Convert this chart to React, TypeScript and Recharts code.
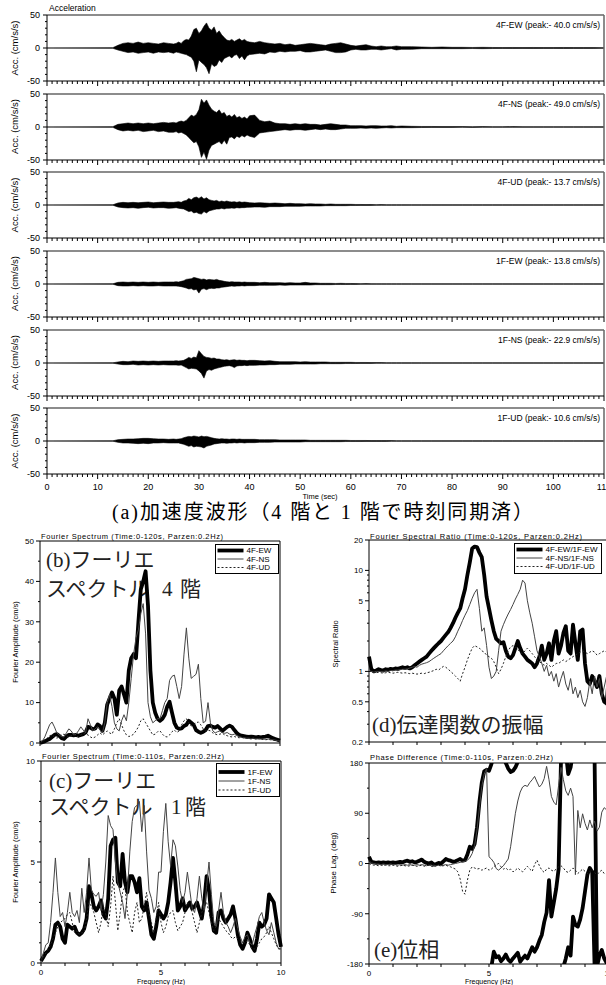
import React from "react";
import { ComposedChart, LineChart, Line, Area, XAxis, YAxis, ReferenceLine } from "recharts";

const SANS = '"Liberation Sans", Arial, sans-serif';
const JP = '"Liberation Serif", "Noto Sans CJK JP", serif';

// ---------- (a) acceleration records, min/max envelope per time step (s) ----------
const TIME = [
  0,
  13, 14, 15, 16, 17, 18, 19, 20, 21, 22, 23, 24,
  25, 25.5, 26, 26.5, 27, 27.5, 28, 28.5, 29, 29.5, 30, 30.5, 31, 31.5, 32, 32.5,
  33, 33.5, 34, 34.5, 35, 35.5, 36, 36.5, 37, 37.5, 38, 38.5, 39, 39.5, 40,
  41, 42, 43, 44, 45, 46, 47, 48, 49, 50, 51, 52, 53, 54, 55,
  56, 57, 58, 59, 60, 61, 62, 63, 64, 65, 66, 67, 68, 69, 70,
  72, 74, 76, 78, 80, 82, 84, 86, 88, 90, 92, 94, 96, 98, 100, 102, 104, 106, 108, 110,
];

const ew4Hi = [
  0,
  0.5, 4, 7, 8, 7, 9, 7, 8, 7, 6, 8, 7,
  6, 7, 9, 7, 11, 13, 12, 18, 28, 30, 22, 26, 33, 38, 30, 27, 32, 22, 26, 20, 16, 12, 11, 13, 10, 12, 14, 11, 13, 10, 9,
  8, 10, 8, 7, 6, 7, 5, 6, 4, 5, 6, 7, 6, 5, 4, 6, 7, 8, 6, 4, 3, 4, 5, 3, 2, 3, 2, 2, 3, 2,
  2, 1.5, 1, 1.5, 1, 1, 0.8, 1, 0.8, 0.6, 0.8, 0.6, 0.8, 0.6, 0.6, 0.8, 0.6, 0.6, 0.6, 0.5,
];
const ew4Lo = [
  0,
  -0.5, -3, -5, -7, -6, -8, -7, -6, -8, -6, -7, -6,
  -8, -6, -7, -8, -9, -10, -12, -14, -20, -36, -18, -22, -25, -30, -39, -24, -28, -26, -18, -22, -16, -14, -12, -15, -11, -10, -16, -12, -18, -12, -10,
  -9, -8, -9, -6, -7, -5, -6, -5, -5, -4, -6, -6, -5, -4, -3, -5, -7, -7, -6, -3, -2, -3, -3, -2, -2, -3, -2, -1, -3, -2,
  -2, -1, -1, -1, -1, -1, -0.8, -1, -0.8, -0.6, -0.8, -0.6, -0.8, -0.6, -0.6, -0.8, -0.6, -0.6, -0.6, -0.5,
];

const ns4Hi = [
  0,
  0.5, 4, 5, 6, 5, 6, 5, 6, 5, 6, 7, 6,
  7, 6, 8, 9, 8, 10, 14, 18, 16, 19, 26, 42, 36, 41, 33, 27, 24, 22, 26, 20, 22, 16, 18, 15, 19, 14, 16, 13, 15, 12, 17,
  18, 10, 8, 9, 6, 5, 5, 4, 5, 4, 5, 4, 4, 3, 4, 5, 4, 3, 3, 2, 2, 2, 1.5, 2, 2, 1.5, 1.5, 2, 1, 1.5,
  1, 0.8, 0.8, 0.6, 0.6, 0.6, 0.5, 0.6, 0.5, 0.5, 0.6, 0.5, 0.5, 0.5, 0.5, 0.5, 0.5, 0.5, 0.5, 0.5,
];
const ns4Lo = [
  0,
  -0.5, -4, -6, -5, -6, -5, -7, -6, -5, -7, -6, -8,
  -8, -7, -9, -8, -10, -12, -16, -20, -24, -22, -30, -46, -38, -49, -35, -28, -26, -24, -22, -26, -20, -26, -16, -15, -18, -14, -16, -13, -15, -12, -14,
  -16, -9, -8, -7, -6, -5, -4, -5, -4, -4, -5, -4, -3, -4, -3, -4, -4, -3, -2, -2, -2, -1.5, -2, -1.5, -2, -1.5, -1, -1.5, -1, -1,
  -1, -0.8, -0.6, -0.6, -0.6, -0.5, -0.6, -0.5, -0.5, -0.5, -0.5, -0.5, -0.5, -0.5, -0.5, -0.5, -0.5, -0.5, -0.5, -0.5,
];

const ud4Hi = [
  0,
  0.3, 3, 4, 3.5, 4, 3.5, 4, 4.5, 3.5, 4, 4.5, 4,
  4, 4.5, 5, 4, 6, 7, 10, 8, 11, 12, 10, 12.5, 9, 11, 8, 7, 6, 7, 5, 6, 5, 6, 5, 4.5, 5, 4, 5, 4, 4.5, 4, 3.5,
  3, 3.5, 3, 2.5, 3, 2.5, 2, 2.5, 2, 2, 1.5, 2, 1.5, 1.5, 1, 1.5, 1, 1, 1, 1, 0.8, 0.8, 0.6, 0.8, 0.5, 0.6, 0.5, 0.5, 0.5, 0.5,
  0.4, 0.4, 0.4, 0.4, 0.4, 0.4, 0.4, 0.4, 0.4, 0.4, 0.4, 0.4, 0.4, 0.4, 0.4, 0.4, 0.4, 0.4, 0.4, 0.4,
];
const ud4Lo = [
  0,
  -0.3, -3, -4, -4.5, -4, -5, -4, -3.5, -4.5, -4, -4, -5,
  -4.5, -4, -5, -5.5, -6, -8, -10, -9, -12, -11, -13, -13.7, -10, -12, -9, -8, -7, -6, -6, -5, -6, -5, -5, -4.5, -5, -4, -4.5, -4, -4, -3.5, -3.5,
  -3, -3, -3.5, -2.5, -2.5, -2.5, -2, -2, -2, -2, -1.5, -1.5, -1.5, -1.5, -1, -1, -1, -1, -1, -0.8, -0.8, -0.6, -0.6, -0.6, -0.5, -0.5, -0.5, -0.5, -0.5, -0.5,
  -0.4, -0.4, -0.4, -0.4, -0.4, -0.4, -0.4, -0.4, -0.4, -0.4, -0.4, -0.4, -0.4, -0.4, -0.4, -0.4, -0.4, -0.4, -0.4, -0.4,
];

const ew1Hi = [
  0,
  0.3, 2.5, 3, 2.5, 3, 2.5, 3, 2.5, 3, 2.5, 3, 3,
  3, 3.5, 3, 4, 5, 7, 7.5, 8, 10, 9, 8, 7, 7.5, 6, 7, 6.5, 6, 7, 5.5, 5, 4, 3.5, 3, 3.5, 3, 3, 3, 2.5, 3, 2.5, 2.5,
  2.5, 2, 2.5, 2, 2, 2, 1.5, 2, 1.5, 1.5, 2.5, 1.5, 1.5, 1, 1, 1, 0.8, 1, 0.8, 0.8, 0.6, 0.5, 0.6, 0.5, 0.4, 0.4, 0.4, 0.4, 0.4, 0.4,
  0.3, 0.3, 0.3, 0.3, 0.3, 0.3, 0.3, 0.3, 0.3, 0.3, 0.3, 0.3, 0.3, 0.3, 0.3, 0.3, 0.3, 0.3, 0.3, 0.3,
];
const ew1Lo = [
  0,
  -0.3, -2.5, -3, -3, -2.5, -3, -2.5, -3, -3, -2.5, -3, -3,
  -3, -3, -3.5, -4, -5, -6, -7.5, -7, -9, -8, -13.8, -8, -7, -8.6, -7, -6.5, -7, -6, -6, -5, -4.5, -4, -3.5, -3, -3.5, -3, -3, -2.5, -3, -2.5, -2.5,
  -2.5, -2, -2, -2, -2, -1.5, -2, -1.5, -1.5, -1.5, -1.5, -1.5, -1, -1, -1, -1, -0.8, -0.8, -0.8, -0.6, -0.6, -0.5, -0.5, -0.5, -0.4, -0.4, -0.4, -0.4, -0.4, -0.4,
  -0.3, -0.3, -0.3, -0.3, -0.3, -0.3, -0.3, -0.3, -0.3, -0.3, -0.3, -0.3, -0.3, -0.3, -0.3, -0.3, -0.3, -0.3, -0.3, -0.3,
];

const ns1Hi = [
  0,
  0.3, 1.5, 2.5, 2, 3, 2.5, 3, 2.5, 3, 2.5, 3, 3,
  3, 3.5, 3, 3.5, 4, 6, 8.5, 7, 9, 8, 18.7, 14, 10, 8.5, 8, 7, 7.5, 6, 6, 5, 4.5, 5, 4, 4.5, 5, 4, 4.5, 4, 4, 3.5, 4,
  4, 3.5, 3, 3.5, 2.5, 2, 2, 2, 2, 1.5, 2, 1.5, 1.5, 1.5, 1.5, 1, 1, 1, 1, 1, 0.8, 0.8, 0.8, 0.6, 0.6, 0.6, 0.5, 0.5, 0.5, 0.5,
  0.5, 0.4, 0.3, 0.3, 0.3, 0.3, 0.3, 0.3, 0.3, 0.3, 0.3, 0.3, 0.3, 0.3, 0.3, 0.3, 0.3, 0.3, 0.3, 0.3,
];
const ns1Lo = [
  0,
  -0.3, -1.5, -2.5, -2.5, -2, -3, -2.5, -3, -2.5, -3, -2.5, -3,
  -3, -3, -3.5, -3, -5, -7, -9, -8, -8.5, -9, -12, -16, -22.9, -12, -10, -11, -9, -8, -7, -6, -5, -4.5, -4, -5, -7, -4.5, -4, -4, -3.5, -4, -3.5,
  -3.5, -3, -3, -2.5, -2.5, -2, -2, -2, -1.5, -1.5, -1.5, -1.5, -1.5, -1, -1, -1, -1, -1, -0.8, -0.8, -0.8, -0.6, -0.6, -0.6, -0.5, -0.5, -0.5, -0.5, -0.5, -0.5,
  -0.5, -0.4, -0.3, -0.3, -0.3, -0.3, -0.3, -0.3, -0.3, -0.3, -0.3, -0.3, -0.3, -0.3, -0.3, -0.3, -0.3, -0.3, -0.3, -0.3,
];

const ud1Hi = [
  0,
  0.3, 2, 2.5, 3, 3, 3.5, 4, 4, 3.5, 3, 3, 2.5,
  3, 2.5, 3, 3.5, 5, 6, 7, 6.5, 7.5, 7, 6, 7.5, 6.5, 7, 6, 5, 4, 3.5, 3, 3.5, 3, 3, 2.5, 3, 3, 2.5, 3, 2.5, 2.5, 2.5, 2.5,
  2.5, 2, 2, 2, 2, 1.5, 1.5, 1.5, 1.5, 1.5, 1.5, 1, 1, 1, 1, 1, 1, 1, 1, 0.8, 0.8, 0.8, 0.8, 0.6, 0.6, 0.6, 0.6, 0.6, 0.5, 0.5,
  0.5, 0.5, 0.5, 0.5, 0.5, 0.5, 0.5, 0.5, 0.4, 0.4, 0.4, 0.3, 0.3, 0.3, 0.3, 0.3, 0.3, 0.3, 0.3, 0.3,
];
const ud1Lo = [
  0,
  -0.3, -2, -3, -3, -3.5, -4, -3.5, -4, -3, -3, -2.5, -3,
  -3, -3, -3, -4, -5, -6.5, -8, -7, -9, -8, -8.5, -9, -10.6, -8, -7, -6, -4.5, -4, -3.5, -3, -3, -3.5, -3, -3, -2.5, -3, -2.5, -2.5, -3, -2.5, -2.5,
  -2.5, -2, -2, -2, -1.5, -1.5, -1.5, -1.5, -1.5, -1.5, -1, -1, -1, -1, -1, -1, -1, -1, -0.8, -0.8, -0.8, -0.8, -0.6, -0.6, -0.6, -0.6, -0.6, -0.5, -0.5, -0.5,
  -0.5, -0.5, -0.5, -0.5, -0.5, -0.5, -0.5, -0.5, -0.4, -0.4, -0.4, -0.3, -0.3, -0.3, -0.3, -0.3, -0.3, -0.3, -0.3, -0.3,
];

const WAVE_NAMES = [
  "4F-EW (peak:- 40.0 cm/s/s)",
  "4F-NS (peak:- 49.0 cm/s/s)",
  "4F-UD (peak:- 13.7 cm/s/s)",
  "1F-EW (peak:- 13.8 cm/s/s)",
  "1F-NS (peak:- 22.9 cm/s/s)",
  "1F-UD (peak:- 10.6 cm/s/s)",
];
const WAVE_HI = [ew4Hi, ns4Hi, ud4Hi, ew1Hi, ns1Hi, ud1Hi];
const WAVE_LO = [ew4Lo, ns4Lo, ud4Lo, ew1Lo, ns1Lo, ud1Lo];
const PANEL_TOPS = [15, 93.5, 172, 250.5, 329.5, 408];

const TIME_TICKS = Array.from({ length: 111 }, (_, i) => i);
const TIME_LABELS = [0, 10, 20, 30, 40, 50, 60, 70, 80, 90, 100, 110];
const ACC_TICKS = [-50, -40, -30, -20, -10, 0, 10, 20, 30, 40, 50];
const ACC_LABELS = [-50, 0, 50];

// ---------- (b)-(e) spectra, 0.1 Hz step ----------
const FREQ = [
  0, 0.1, 0.2, 0.3, 0.4, 0.5, 0.6, 0.7, 0.8, 0.9,
  1, 1.1, 1.2, 1.3, 1.4, 1.5, 1.6, 1.7, 1.8, 1.9,
  2, 2.1, 2.2, 2.3, 2.4, 2.5, 2.6, 2.7, 2.8, 2.9,
  3, 3.1, 3.2, 3.3, 3.4, 3.5, 3.6, 3.7, 3.8, 3.9,
  4, 4.1, 4.2, 4.3, 4.4, 4.5, 4.6, 4.7, 4.8, 4.9,
  5, 5.1, 5.2, 5.3, 5.4, 5.5, 5.6, 5.7, 5.8, 5.9,
  6, 6.1, 6.2, 6.3, 6.4, 6.5, 6.6, 6.7, 6.8, 6.9,
  7, 7.1, 7.2, 7.3, 7.4, 7.5, 7.6, 7.7, 7.8, 7.9,
  8, 8.1, 8.2, 8.3, 8.4, 8.5, 8.6, 8.7, 8.8, 8.9,
  9, 9.1, 9.2, 9.3, 9.4, 9.5, 9.6, 9.7, 9.8, 9.9,
  10,
];
const FREQ_TICKS = [0, 1, 2, 3, 4, 5, 6, 7, 8, 9, 10];
const FREQ_LABELS = [0, 5, 10];

// (b) Fourier spectrum, 4th floor (cm/s)
const amp4EW = [
  0, 0.2, 0.4, 0.7, 1.0, 1.5, 2.0, 2.2, 1.8, 1.2,
  1.0, 1.6, 2.0, 2.0, 1.9, 2.0, 1.8, 2.0, 2.2, 2.6,
  4.0, 3.8, 3.4, 3.6, 4.6, 4.2, 3.0, 5.0, 9.5, 11.0,
  12.5, 11.0, 7.0, 13.0, 14.0, 12.0, 10.0, 18.0, 21.0, 22.0,
  21.0, 30.0, 38.0, 40.0, 42.5, 34.0, 18.0, 10.0, 7.5, 6.0,
  5.5, 6.0, 7.0, 9.0, 10.2, 7.5, 5.0, 3.8, 3.5, 3.6,
  4.2, 4.5, 5.5, 5.0, 4.5, 3.2, 2.8, 2.5, 2.8, 3.2,
  4.2, 4.3, 4.0, 3.8, 4.2, 3.6, 3.0, 3.5, 4.0, 4.3,
  4.0, 3.2, 2.5, 2.0, 1.8, 1.7, 1.6, 1.5, 1.6, 1.5,
  1.4, 1.5, 1.4, 1.5, 1.6, 1.8, 1.5, 1.2, 1.0, 0.8,
  0.6,
];
const amp4NS = [
  0, 0.5, 1.5, 3.0, 4.5, 5.2, 4.0, 2.5, 2.0, 1.6,
  1.5, 2.5, 3.5, 3.0, 2.0, 2.2, 3.0, 4.0, 3.2, 2.5,
  6.0, 4.5, 3.0, 3.5, 4.0, 3.2, 2.5, 5.0, 10.0, 12.0,
  9.0, 5.0, 3.5, 3.0, 5.5, 7.0, 5.5, 10.0, 16.0, 22.0,
  26.0, 28.0, 32.0, 34.5, 27.0, 10.0, 6.5, 5.0, 5.5, 6.0,
  6.0, 8.0, 10.0, 11.0, 15.5, 16.5, 16.8, 14.0, 11.0, 14.0,
  22.0, 28.5, 21.0, 16.0, 16.5, 17.0, 19.5, 11.0, 5.0, 5.4,
  10.0, 5.0, 3.0, 2.5, 2.8, 3.0, 2.6, 2.4, 2.6, 2.2,
  2.0, 2.2, 1.8, 1.6, 1.4, 1.3, 1.2, 1.2, 1.1, 1.2,
  1.0, 1.1, 1.0, 1.0, 0.9, 1.0, 0.9, 0.8, 0.7, 0.6,
  0.5,
];
const amp4UD = [
  0, 0.3, 0.8, 1.2, 1.8, 2.0, 1.5, 1.2, 1.5, 2.0,
  2.2, 1.8, 1.5, 1.8, 2.2, 1.8, 1.5, 2.0, 2.5, 2.2,
  2.0, 1.5, 1.2, 1.5, 2.0, 2.5, 2.0, 2.5, 3.0, 2.5,
  2.2, 3.5, 5.0, 6.0, 4.5, 3.0, 2.0, 1.6, 1.8, 2.2,
  3.0, 4.0, 5.5, 6.0, 5.0, 4.0, 3.0, 2.0, 2.2, 2.8,
  3.0, 2.2, 1.6, 1.5, 2.0, 2.8, 3.2, 2.6, 3.0, 4.5,
  5.5, 6.0, 5.0, 4.2, 4.5, 5.0, 5.2, 4.5, 3.5, 3.0,
  3.2, 3.0, 2.5, 2.2, 2.0, 2.2, 2.4, 2.0, 1.8, 1.6,
  1.5, 1.6, 1.4, 1.3, 1.4, 1.2, 1.2, 1.1, 1.0, 1.1,
  1.0, 1.0, 0.9, 0.9, 0.8, 0.9, 0.8, 0.7, 0.6, 0.5,
  0.5,
];

// (c) Fourier spectrum, 1st floor (cm/s)
const amp1EW = [
  0.1, 0.3, 0.5, 0.6, 0.8, 1.2, 1.9, 2.0, 1.8, 1.2,
  1.0, 1.9, 1.8, 1.7, 1.8, 1.5, 1.4, 1.5, 1.7, 2.2,
  3.8, 3.4, 2.8, 2.6, 2.8, 3.1, 2.4, 2.2, 3.2, 5.8,
  6.1, 6.2, 4.0, 3.8, 5.4, 4.0, 3.5, 4.3, 4.3, 4.0,
  3.5, 4.2, 2.8, 2.6, 3.0, 2.2, 1.4, 1.2, 1.8, 2.6,
  2.4, 2.2, 2.4, 3.0, 4.0, 5.2, 4.0, 2.6, 2.8, 3.2,
  2.6, 2.8, 3.0, 2.7, 2.8, 3.0, 2.6, 2.2, 3.0, 4.3,
  3.6, 2.3, 1.6, 1.5, 2.5, 2.6, 2.2, 2.0, 2.2, 2.4,
  2.8, 2.2, 1.4, 0.9, 0.7, 1.0, 1.5, 1.2, 0.8, 0.6,
  1.2, 2.0, 1.8, 1.9, 2.2, 3.4, 3.2, 3.0, 2.2, 1.4,
  0.8,
];
const amp1NS = [
  0.1, 0.5, 0.9, 1.0, 2.0, 3.5, 5.2, 3.5, 2.3, 2.5,
  1.8, 2.5, 3.5, 2.5, 2.3, 2.6, 2.0, 3.7, 2.5, 3.5,
  5.2, 3.6, 3.4, 3.3, 3.5, 2.6, 3.4, 5.0, 7.3, 6.8,
  6.6, 5.0, 4.0, 3.5, 3.0, 2.2, 3.5, 5.5, 7.0, 7.7,
  7.8, 8.0, 6.5, 7.8, 5.5, 3.6, 3.2, 2.5, 2.8, 4.5,
  4.5, 6.5, 7.9, 6.0, 4.8, 6.1, 5.8, 4.8, 3.6, 3.0,
  3.5, 4.5, 3.6, 2.7, 2.5, 3.2, 4.3, 3.2, 2.6, 3.8,
  5.0, 3.4, 2.0, 1.8, 2.6, 3.5, 2.5, 2.0, 1.8, 1.5,
  1.8, 2.2, 1.7, 1.3, 1.0, 1.3, 1.4, 1.0, 0.9, 1.4,
  1.8, 2.3, 2.5, 2.0, 1.6, 1.4, 2.0, 1.5, 1.0, 0.7,
  0.7,
];
const amp1UD = [
  0.1, 0.3, 0.5, 0.7, 0.9, 1.2, 1.5, 1.8, 2.0, 2.1,
  2.2, 2.4, 2.5, 2.0, 1.5, 1.6, 1.4, 1.5, 1.5, 2.2,
  3.0, 2.8, 2.5, 2.0, 1.5, 2.0, 2.8, 2.4, 1.8, 2.8,
  4.3, 3.0, 1.6, 2.5, 3.5, 3.8, 2.5, 2.0, 1.5, 2.5,
  3.0, 2.0, 2.2, 2.8, 3.5, 2.5, 2.0, 1.5, 2.2, 3.0,
  2.0, 1.5, 1.8, 2.3, 2.5, 2.6, 2.0, 1.6, 1.8, 2.0,
  2.5, 3.0, 2.8, 2.5, 2.0, 1.5, 2.0, 2.5, 2.8, 3.0,
  2.5, 2.0, 1.6, 1.8, 2.2, 2.0, 1.8, 1.6, 1.5, 1.3,
  1.2, 1.3, 1.2, 1.1, 1.0, 1.0, 1.1, 0.9, 0.7, 0.7,
  0.8, 1.0, 1.2, 1.3, 1.5, 1.8, 1.5, 1.2, 0.9, 0.7,
  0.7,
];

// (d) spectral ratio 4F/1F
const ratioEW = [
  1.4, 1.05, 1.0, 1.02, 1.05, 1.03, 1.02, 1.05, 1.04, 1.06,
  1.05, 1.07, 1.06, 1.08, 1.1, 1.08, 1.1, 1.07, 1.1, 1.15,
  1.2, 1.25, 1.3, 1.35, 1.4, 1.5, 1.6, 1.7, 1.8, 1.9,
  2.0, 2.15, 2.3, 2.45, 2.7, 3.0, 3.4, 3.8, 4.2, 5.3,
  6.5, 9.0, 12.0, 16.5, 17.2, 17.0, 15.0, 13.5, 9.0, 5.5,
  4.2, 3.2, 2.5, 2.1, 2.0, 1.9, 1.95, 1.6, 1.4, 1.35,
  1.45, 1.7, 2.0, 1.7, 1.5, 1.4, 1.3, 1.25, 1.2, 1.1,
  1.2, 1.4, 1.8, 1.3, 1.5, 1.9, 1.3, 2.0, 2.5, 1.5,
  1.8, 2.4, 2.8, 1.6, 1.5, 2.9, 1.9, 1.3, 2.5, 2.6,
  1.2, 0.8, 0.75, 0.9, 0.8, 0.7, 0.9, 0.6, 0.5, 0.48,
  0.95,
];
const ratioNS = [
  1.0, 1.0, 0.98, 1.0, 1.0, 1.0, 1.0, 1.01, 1.0, 1.02,
  1.02, 1.03, 1.03, 1.04, 1.05, 1.05, 1.06, 1.08, 1.1, 1.12,
  1.1, 1.15, 1.18, 1.2, 1.22, 1.25, 1.3, 1.35, 1.4, 1.45,
  1.5, 1.6, 1.7, 1.8, 1.9, 2.0, 2.2, 2.5, 2.8, 3.2,
  3.6, 4.0, 4.6, 5.3, 6.0, 6.5, 4.2, 2.5, 2.7, 1.8,
  1.1, 0.85, 0.9, 1.0, 1.6, 2.5, 2.9, 3.3, 3.7, 4.1,
  4.6, 5.2, 5.8, 6.5, 8.0, 7.5, 5.0, 3.8, 3.0, 2.2,
  1.6, 1.4, 1.2, 1.0, 1.15, 0.9, 1.0, 0.8, 0.95, 0.7,
  0.85, 1.0, 0.75, 0.65, 0.85, 0.6, 0.7, 0.55, 0.65, 0.5,
  0.45, 0.55, 0.8, 0.6, 0.9, 0.7, 0.85, 0.55, 0.7, 0.9,
  1.0,
];
const ratioUD = [
  1.0, 1.0, 0.98, 0.97, 0.98, 0.97, 0.96, 0.97, 0.98, 0.97,
  0.96, 0.97, 0.98, 0.97, 0.96, 0.97, 0.96, 0.95, 0.96, 0.95,
  0.94, 0.95, 0.96, 0.95, 0.97, 0.98, 1.0, 1.02, 1.05, 1.03,
  1.08, 1.12, 1.1, 1.05, 1.0, 0.95, 0.9, 0.85, 0.8, 0.95,
  1.1, 1.3, 1.5, 1.7, 1.8, 1.75, 1.7, 1.6, 1.55, 1.45,
  1.4, 1.35, 1.25, 1.1, 0.95, 1.05, 1.2, 1.4, 1.6, 1.75,
  1.8, 1.75, 1.65, 1.55, 1.5, 1.6, 1.7, 1.6, 1.5, 1.4,
  1.3, 1.25, 1.2, 1.15, 1.2, 1.15, 1.1, 1.15, 1.2, 1.2,
  1.25, 1.3, 1.25, 1.3, 1.35, 1.4, 1.45, 1.5, 1.55, 1.6,
  1.55, 1.5, 1.55, 1.6, 1.55, 1.45, 1.5, 1.55, 1.6, 1.55,
  1.5,
];

// (e) phase difference (deg); the EW curve is drawn in wrapped pieces
const phaseEWa = [
  12, 3, 2, 1, 2, 1, 2, 1, 2, 1,
  2, 1, 2, 3, 2, 4, 5, 3, 4, 2,
  3, 5, 7, 3, 1, 0, 2, -2, -1, 1,
  0, 4, 8, 6, 5, 3, 4, 6, 8, 5,
  6, 16, 30, 26, 35, 65, 110, 145, 165, 168,
  166, 178, 195, 205, 210, 200, 192, 180, 170, 164,
  166, 172, 182, 200,
];
const FREQ_B = [5.1, 5.2, 5.3, 5.4, 5.5, 5.6, 5.7, 5.8, 5.9, 6, 6.1, 6.2, 6.3, 6.4, 6.5, 6.6, 6.7, 6.8, 6.9, 7, 7.1, 7.2, 7.3, 7.4, 7.5, 7.6, 7.7, 7.8, 7.9, 8];
const phaseEWb = [
  -185, -158, -168, -166, -175, -170, -163, -172, -176,
  -170, -165, -160, -176, -170, -165, -170, -160, -150, -158,
  -150, -138, -128, -105, -88, -30, -95, -70, -45, -10,
  185,
];
const FREQ_C = [8.1, 8.2, 8.3, 8.4, 8.5, 8.6, 8.7, 8.8, 8.9, 9, 9.1, 9.2, 9.3, 9.4];
const phaseEWc = [-185, -170, -150, -165, -95, -110, -113, -100, -80, -50, -20, -8, -15, -185];
const FREQ_D = [8.2, 8.3, 8.4, 8.5];
const phaseEWd = [200, 160, 172, 200];
const FREQ_E = [9.4, 9.5, 9.6, 9.7, 9.8, 9.9, 10];
const phaseEWe = [185, -185, -165, -155, -170, -178, -160];
const phaseNS = [
  5, 1, 0, -1, -1, -2, -1, -2, -2, -1,
  -2, -2, -3, -2, -3, -2, -3, -2, -3, -3,
  -2, -3, -2, -3, -4, -3, -4, -3, -4, -3,
  -4, -3, -2, -3, -2, -1, 0, 1, 2, 3,
  4, 6, 10, 18, 32, 60, 100, 138, 160, 170,
  12, 8, 2, -9, -12, -8, -4, 2, 8, 30,
  60, 90, 112, 128, 137, 140, 138, 145, 150, 156,
  146, 137, 142, 152, 174, 150, 120, 110, 105, 140,
  172, 150, 130, 122, 135, 120, -20, 95, 64, 89,
  72, 60, 78, 64, 76, 58, 65, 92, 100, 96,
  88,
];
const phaseUD = [
  0, -2, -3, -3, -4, -3, -4, -3, -4, -4,
  -3, -4, -5, -4, -3, -4, -5, -4, -3, -4,
  -5, -4, -3, -5, -4, -3, -5, -6, -4, -3,
  -5, -4, -3, -5, -6, -8, -10, -15, -28, -50,
  -55, -30, -12, -6, -8, -10, -9, -12, -10, -8,
  -12, -10, -6, -2, 0, -6, -10, -8, -12, -10,
  -15, -12, -8, -12, -15, -10, -5, -10, -14, -2,
  6, -4, -12, -16, -10, -8, -12, -14, -10, -6,
  -4, -8, -14, -16, -12, -8, -12, -18, -14, -10,
  -14, -18, -15, -10, -16, -20, -15, -12, -18, -20,
  -12,
];

const B_TICKS = [0, 5, 10, 15, 20, 25, 30, 35, 40, 45, 50];
const B_LABELS = [0, 10, 20, 30, 40, 50];
const C_TICKS = [0, 1, 2, 3, 4, 5, 6, 7, 8, 9, 10];
const C_LABELS = [0, 5, 10];
const D_TICKS = [0.2, 0.3, 0.4, 0.5, 0.6, 0.7, 0.8, 0.9, 1, 2, 3, 4, 5, 6, 7, 8, 9, 10, 20];
const D_LABELS = [0.2, 0.5, 1, 5, 10, 20];
const E_TICKS = [-180, -135, -90, -45, 0, 45, 90, 135, 180];
const E_LABELS = [-180, -90, 0, 90, 180];

const THICK = { stroke: "#000", strokeWidth: 3.8 };
const THIN = { stroke: "#444", strokeWidth: 1 };
const DASH = { stroke: "#222", strokeWidth: 1, strokeDasharray: "2 2" };
const AXIS = { stroke: "#000" };
const MT = 8; // top margin of every chart, leaves room for the top tick label

function BottomTick(props: any) {
  const { x, y, payload, labels, show, minor = 3, major = 5, fontSize = 8, dy = 12 } = props;
  const isMajor = labels.includes(payload.value);
  return (
    <g>
      <line x1={x} x2={x} y1={y} y2={y + (isMajor ? major : minor)} stroke="#000" />
      {show && isMajor ? (
        <text x={x} y={y + dy} textAnchor="middle" fontSize={fontSize} fontFamily={SANS} fill="#000">
          {payload.value}
        </text>
      ) : null}
    </g>
  );
}

function LeftTick(props: any) {
  const { x, y, payload, labels, minor = 2, major = 4, fontSize = 8, gap = 6 } = props;
  const isMajor = labels.includes(payload.value);
  return (
    <g>
      <line x1={x - (isMajor ? major : minor)} x2={x} y1={y} y2={y} stroke="#000" />
      {isMajor ? (
        <text x={x - gap} y={y} dy="0.35em" textAnchor="end" fontSize={fontSize} fontFamily={SANS} fill="#000">
          {payload.value}
        </text>
      ) : null}
    </g>
  );
}

const toRows = (fs: number[], ys: number[]) => fs.map((f, i) => ({ f, y: ys[i] }));

function WavePanel({ index }: { index: number }) {
  const hi = WAVE_HI[index];
  const lo = WAVE_LO[index];
  const rows = TIME.map((t, i) => ({ t, v: [lo[i], hi[i]] }));
  const last = index === WAVE_HI.length - 1;
  return (
    <div style={{ position: "absolute", left: 0, top: PANEL_TOPS[index] - MT }}>
      <ComposedChart width={606} height={MT + 66 + 20} data={rows} margin={{ top: MT, right: 2, bottom: 0, left: 0 }}>
        <XAxis
          type="number"
          dataKey="t"
          domain={[0, 110]}
          ticks={TIME_TICKS}
          interval={0}
          height={20}
          tickSize={0}
          tickMargin={0}
          tickLine={false}
          axisLine={AXIS}
          tick={(p: any) => <BottomTick {...p} labels={TIME_LABELS} show={last} minor={3} major={5} fontSize={9} dy={16} />}
        />
        <YAxis
          type="number"
          domain={[-50, 50]}
          ticks={ACC_TICKS}
          interval={0}
          width={47}
          tickSize={0}
          tickMargin={0}
          tickLine={false}
          axisLine={AXIS}
          tick={(p: any) => <LeftTick {...p} labels={ACC_LABELS} fontSize={9} gap={7} />}
        />
        <ReferenceLine y={50} stroke="#666" strokeWidth={1.5} ifOverflow="visible" />
        <ReferenceLine x={110} stroke="#666" strokeWidth={1.5} ifOverflow="visible" />
        <Area
          type="linear"
          dataKey="v"
          stroke="#000"
          strokeWidth={0.6}
          fill="#000"
          fillOpacity={1}
          dot={false}
          activeDot={false}
          isAnimationActive={false}
        />
      </ComposedChart>
    </div>
  );
}

function freqAxis(show: boolean) {
  return (
    <XAxis
      type="number"
      dataKey="f"
      domain={[0, 10]}
      ticks={FREQ_TICKS}
      interval={0}
      height={show ? 22 : 12}
      tickSize={0}
      tickMargin={0}
      tickLine={false}
      axisLine={AXIS}
      tick={(p: any) => <BottomTick {...p} labels={FREQ_LABELS} show={show} minor={3} major={3} fontSize={8} dy={11.5} />}
    />
  );
}

function LegendBox({ x, y, w, h, rows }: { x: number; y: number; w: number; h: number; rows: { label: string; cy: number; style: any }[] }) {
  return (
    <g>
      <rect x={x} y={y} width={w} height={h} fill="#fff" stroke="#000" strokeWidth={1} />
      {rows.map((r) => (
        <g key={r.label}>
          <line x1={x + 2} x2={x + 28} y1={r.cy} y2={r.cy} {...r.style} />
          <text x={x + 31} y={r.cy + 2.8} fontSize={8} fontFamily={SANS} fill="#000">
            {r.label}
          </text>
        </g>
      ))}
    </g>
  );
}

export default function App() {
  const bRows = FREQ.map((f, i) => ({ f, ew: amp4EW[i], ns: amp4NS[i], ud: amp4UD[i] }));
  const cRows = FREQ.map((f, i) => ({ f, ew: amp1EW[i], ns: amp1NS[i], ud: amp1UD[i] }));
  const dRows = FREQ.map((f, i) => ({ f, ew: ratioEW[i], ns: ratioNS[i], ud: ratioUD[i] }));
  const eRows = FREQ.map((f, i) => ({ f, ns: phaseNS[i], ud: phaseUD[i] }));

  return (
    <div style={{ position: "absolute", left: 0, top: 0, width: 606, height: 985, overflow: "hidden", background: "#fff" }}>
      {/* texts under the plots */}
      <svg width={606} height={985} style={{ position: "absolute", left: 0, top: 0 }}>
        <text x={49} y={10.5} fontSize={8.5} fontFamily={SANS}>Acceleration</text>
        {PANEL_TOPS.map((top, i) => (
          <g key={i}>
            <text x={600} y={top + 13} fontSize={8.5} fontFamily={SANS} textAnchor="end">{WAVE_NAMES[i]}</text>
            <text transform={`translate(17.5, ${top + 33}) rotate(-90)`} fontSize={9.5} fontFamily={SANS} textAnchor="middle">
              Acc. (cm/s/s)
            </text>
          </g>
        ))}
        <text x={320} y={499} fontSize={7.5} fontFamily={SANS} textAnchor="middle">Time (sec)</text>
        <text x={112} y={519} fontFamily={JP} fontSize={20} textLength={421} lengthAdjust="spacing">
          (a)加速度波形（4 階と 1 階で時刻同期済）
        </text>

        <text x={41} y={539} fontSize={7.5} fontFamily={SANS} textLength={182} lengthAdjust="spacing">
          Fourier Spectrum (Time:0-120s, Parzen:0.2Hz)
        </text>
        <text x={42} y={759} fontSize={7.5} fontFamily={SANS} textLength={182} lengthAdjust="spacing">
          Fourier Spectrum (Time:0-110s, Parzen:0.2Hz)
        </text>
        <text x={370} y={539} fontSize={7.5} fontFamily={SANS} textLength={212} lengthAdjust="spacing">
          Fourier Spectral Ratio (Time:0-120s, Parzen:0.2Hz)
        </text>
        <text x={370} y={760} fontSize={7.5} fontFamily={SANS} textLength={183} lengthAdjust="spacing">
          Phase Difference (Time:0-110s, Parzen:0.2Hz)
        </text>

        <text transform="translate(18, 642) rotate(-90)" fontSize={7.5} fontFamily={SANS} textAnchor="middle">Fourier Amplitude (cm/s)</text>
        <text transform="translate(18, 862) rotate(-90)" fontSize={7.5} fontFamily={SANS} textAnchor="middle">Fourier Amplitude (cm/s)</text>
        <text transform="translate(338, 644) rotate(-90)" fontSize={7.5} fontFamily={SANS} textAnchor="middle">Spectral Ratio</text>
        <text transform="translate(336, 863) rotate(-90)" fontSize={8} fontFamily={SANS} textAnchor="middle">Phase Lag. (deg)</text>
        <text x={161} y={983.5} fontSize={7} fontFamily={SANS} textAnchor="middle">Frequency (Hz)</text>
        <text x={489} y={984} fontSize={7} fontFamily={SANS} textAnchor="middle">Frequency (Hz)</text>

        <g fontFamily={JP} fontSize={21} fill="#222">
          <text x={46} y={567}>(b)フーリエ</text>
          <text x={46} y={596}>スペクトル</text>
          <text x={162} y={596}>4</text>
          <text x={180} y={596}>階</text>
          <text x={49} y={788}>(c)フーリエ</text>
          <text x={49} y={814}>スペクトル</text>
          <text x={171} y={814}>1</text>
          <text x={185} y={814}>階</text>
          <text x={372} y={732}>(d)伝達関数の振幅</text>
          <text x={374} y={957}>(e)位相</text>
        </g>
      </svg>

      {PANEL_TOPS.map((_, i) => (
        <WavePanel key={i} index={i} />
      ))}

      {/* (b) */}
      <div style={{ position: "absolute", left: 0, top: 541 - MT }}>
        <LineChart width={290} height={MT + 202 + 12} data={bRows} margin={{ top: MT, right: 10, bottom: 0, left: 0 }}>
          {freqAxis(false)}
          <YAxis
            type="number"
            domain={[0, 50]}
            ticks={B_TICKS}
            interval={0}
            width={40}
            tickSize={0}
            tickMargin={0}
            tickLine={false}
            axisLine={AXIS}
            tick={(p: any) => <LeftTick {...p} labels={B_LABELS} gap={6} />}
          />
          <ReferenceLine y={50} stroke="#000" ifOverflow="visible" />
          <ReferenceLine x={10} stroke="#000" ifOverflow="visible" />
          <Line dataKey="ew" {...THICK} strokeLinejoin="round" dot={false} activeDot={false} isAnimationActive={false} />
          <Line dataKey="ns" {...THIN} dot={false} activeDot={false} isAnimationActive={false} />
          <Line dataKey="ud" {...DASH} dot={false} activeDot={false} isAnimationActive={false} />
        </LineChart>
      </div>

      {/* (c) */}
      <div style={{ position: "absolute", left: 0, top: 761 - MT }}>
        <LineChart width={291} height={MT + 202 + 22} data={cRows} margin={{ top: MT, right: 10, bottom: 0, left: 0 }}>
          {freqAxis(true)}
          <YAxis
            type="number"
            domain={[0, 10]}
            ticks={C_TICKS}
            interval={0}
            width={41}
            tickSize={0}
            tickMargin={0}
            tickLine={false}
            axisLine={AXIS}
            tick={(p: any) => <LeftTick {...p} labels={C_LABELS} gap={6} />}
          />
          <ReferenceLine y={10} stroke="#000" ifOverflow="visible" />
          <ReferenceLine x={10} stroke="#000" ifOverflow="visible" />
          <Line dataKey="ew" {...THICK} strokeLinejoin="round" dot={false} activeDot={false} isAnimationActive={false} />
          <Line dataKey="ns" {...THIN} dot={false} activeDot={false} isAnimationActive={false} />
          <Line dataKey="ud" {...DASH} dot={false} activeDot={false} isAnimationActive={false} />
        </LineChart>
      </div>

      {/* (d) */}
      <div style={{ position: "absolute", left: 303, top: 540 - MT }}>
        <LineChart width={316} height={MT + 204 + 10} data={dRows} margin={{ top: MT, right: 10, bottom: 0, left: 0 }}>
          {freqAxis(false)}
          <YAxis
            type="number"
            scale="log"
            domain={[0.2, 20]}
            allowDataOverflow
            ticks={D_TICKS}
            interval={0}
            width={66}
            tickSize={0}
            tickMargin={0}
            tickLine={false}
            axisLine={AXIS}
            tick={(p: any) => <LeftTick {...p} labels={D_LABELS} gap={6} />}
          />
          <ReferenceLine y={20} stroke="#000" ifOverflow="visible" />
          <Line dataKey="ew" {...THICK} strokeLinejoin="round" dot={false} activeDot={false} isAnimationActive={false} />
          <Line dataKey="ns" {...THIN} dot={false} activeDot={false} isAnimationActive={false} />
          <Line dataKey="ud" {...DASH} dot={false} activeDot={false} isAnimationActive={false} />
        </LineChart>
      </div>

      {/* (e) */}
      <div style={{ position: "absolute", left: 303, top: 763 - MT }}>
        <LineChart width={316} height={MT + 201 + 22} data={eRows} margin={{ top: MT, right: 10, bottom: 0, left: 0 }}>
          {freqAxis(true)}
          <YAxis
            type="number"
            domain={[-180, 180]}
            allowDataOverflow
            ticks={E_TICKS}
            interval={0}
            width={66}
            tickSize={0}
            tickMargin={0}
            tickLine={false}
            axisLine={AXIS}
            tick={(p: any) => <LeftTick {...p} labels={E_LABELS} gap={6} />}
          />
          <ReferenceLine y={180} stroke="#000" ifOverflow="visible" />
          <Line data={toRows(FREQ.slice(0, 64), phaseEWa)} dataKey="y" {...THICK} strokeLinejoin="round" dot={false} activeDot={false} isAnimationActive={false} />
          <Line data={toRows(FREQ_B, phaseEWb)} dataKey="y" {...THICK} strokeLinejoin="round" dot={false} activeDot={false} isAnimationActive={false} />
          <Line data={toRows(FREQ_C, phaseEWc)} dataKey="y" {...THICK} strokeLinejoin="round" dot={false} activeDot={false} isAnimationActive={false} />
          <Line data={toRows(FREQ_D, phaseEWd)} dataKey="y" {...THICK} strokeLinejoin="round" dot={false} activeDot={false} isAnimationActive={false} />
          <Line data={toRows(FREQ_E, phaseEWe)} dataKey="y" {...THICK} strokeLinejoin="round" dot={false} activeDot={false} isAnimationActive={false} />
          <Line dataKey="ns" {...THIN} dot={false} activeDot={false} isAnimationActive={false} />
          <Line dataKey="ud" {...DASH} dot={false} activeDot={false} isAnimationActive={false} />
        </LineChart>
      </div>

      {/* legends on top */}
      <svg width={606} height={985} style={{ position: "absolute", left: 0, top: 0, pointerEvents: "none" }}>
        <LegendBox
          x={215.5}
          y={544.5}
          w={63}
          h={29}
          rows={[
            { label: "4F-EW", cy: 550.5, style: THICK },
            { label: "4F-NS", cy: 559, style: THIN },
            { label: "4F-UD", cy: 567.5, style: DASH },
          ]}
        />
        <LegendBox
          x={216.5}
          y={763.5}
          w={63}
          h={33}
          rows={[
            { label: "1F-EW", cy: 772, style: THICK },
            { label: "1F-NS", cy: 781, style: THIN },
            { label: "1F-UD", cy: 790, style: DASH },
          ]}
        />
        <LegendBox
          x={514.5}
          y={543.5}
          w={87}
          h={30}
          rows={[
            { label: "4F-EW/1F-EW", cy: 549.5, style: THICK },
            { label: "4F-NS/1F-NS", cy: 558, style: THIN },
            { label: "4F-UD/1F-UD", cy: 566.5, style: DASH },
          ]}
        />
      </svg>
    </div>
  );
}
